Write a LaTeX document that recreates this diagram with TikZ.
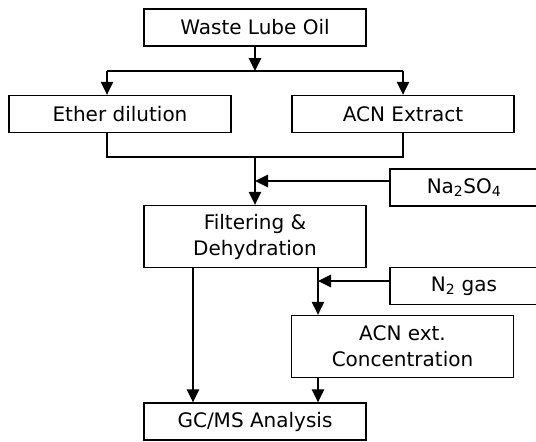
\documentclass[tikz,border=0pt]{standalone}
\usepackage{fontspec}
\setmainfont{DejaVu Sans}
\usetikzlibrary{arrows.meta}

\begin{document}
\begin{tikzpicture}[x=1pt, y=-1pt,
    box/.style={draw, line width=1.4pt, minimum width=222pt, minimum height=37pt,
        inner sep=0pt, align=center, font=\fontsize{20}{26}\selectfont},
    tallbox/.style={box, minimum height=62pt},
    sidebox/.style={box, minimum width=148pt},
    link/.style={line width=1.4pt},
    flow/.style={link, -{Triangle[length=13pt, width=12.5pt]}}]
    % 画布大小
    \useasboundingbox (0,0) rectangle (536,442);

    % 各个方框
    \node[box] (oil) at (255,27.5) {Waste Lube Oil};
    \node[box] (ether) at (120,114) {Ether dilution};
    \node[box] (acn) at (403,114) {ACN Extract};
    \node[sidebox] (na) at (464,187.5) {Na\textsubscript{2}SO\textsubscript{4}};
    \node[tallbox] (filter) at (255,236.5) {Filtering \&\\Dehydration};
    \node[sidebox] (gas) at (464,286) {N\textsubscript{2} gas};
    \node[tallbox] (conc) at (402.5,346.5) {ACN ext.\\Concentration};
    \node[box] (gcms) at (255,421.5) {GC/MS Analysis};

    % 分叉和汇合的坐标点
    \coordinate (split) at (255,71);
    \coordinate (splitL) at (107,71);
    \coordinate (join) at (255,157);
    \coordinate (joinL) at (107,157);
    \coordinate (naIn) at (255,181);
    \coordinate (leftPath) at (193,300);
    \coordinate (rightPath) at (318,281);

    % 上半部分
    \draw[flow] (oil) -- (split);
    \draw[link] (splitL) -- (split -| acn);
    \draw[flow] (splitL) -- (splitL |- ether.north);
    \draw[flow] (split -| acn) -- (acn);
    \draw[link] (splitL |- ether.south) -- (joinL) -- (join -| acn) -- (acn.south);
    \draw[flow] (join) -- (filter);
    \draw[flow] (na.west |- naIn) -- (naIn);

    % 下半部分
    \draw[flow] (filter.south -| leftPath) -- (gcms.north -| leftPath);
    \draw[flow] (filter.south -| rightPath) -- (conc.north -| rightPath);
    \draw[flow] (gas.west |- rightPath) -- (rightPath);
    \draw[flow] (conc.south -| rightPath) -- (gcms.north -| rightPath);
\end{tikzpicture}
\end{document}
